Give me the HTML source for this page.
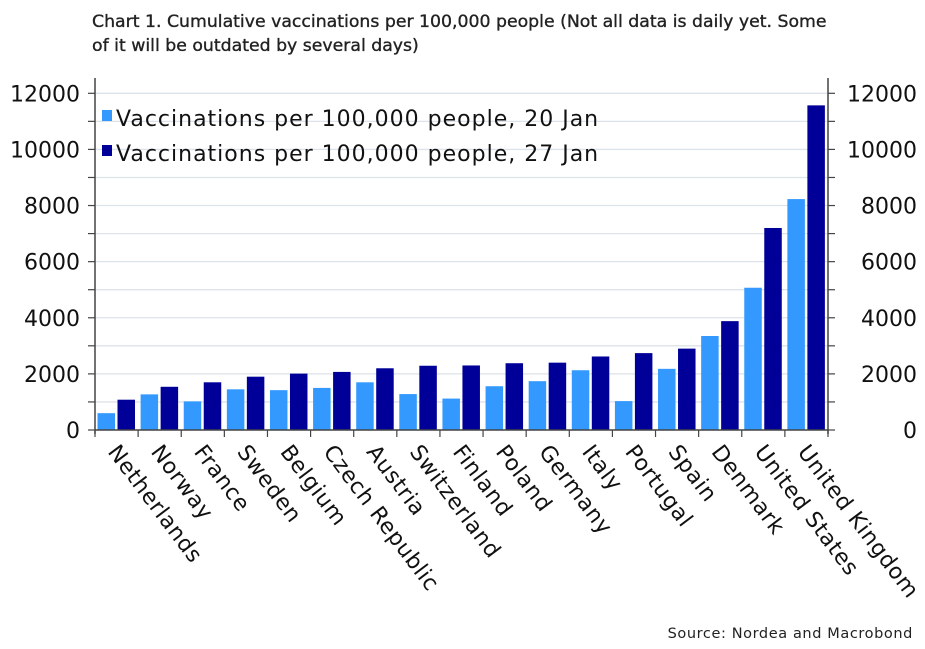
<!DOCTYPE html>
<html><head><meta charset="utf-8"><style>
body{margin:0;background:#fff;}
svg{display:block;}
</style></head><body>
<svg id="chart" width="925" height="649" xmlns="http://www.w3.org/2000/svg">
<text x="92" y="27" font-family="DejaVu Sans, Liberation Sans, sans-serif" font-size="17.3" fill="#222" stroke="#222" stroke-width="0.35">Chart 1. Cumulative vaccinations per 100,000 people (Not all data is daily yet. Some</text>
<text x="92" y="51" font-family="DejaVu Sans, Liberation Sans, sans-serif" font-size="17.3" fill="#222" stroke="#222" stroke-width="0.35">of it will be outdated by several days)</text>
<g id="grid"></g>
<g id="bars"></g>
<g id="axes"></g>
<g id="xlabels"></g>
<g font-family="DejaVu Sans, sans-serif" font-size="22" fill="#111" letter-spacing="1">
<rect x="102" y="110" width="10" height="11" fill="#3399ff"/>
<text x="116" y="126">Vaccinations per 100,000 people, 20 Jan</text>
<rect x="102" y="145" width="10" height="11" fill="#000099"/>
<text x="116" y="161">Vaccinations per 100,000 people, 27 Jan</text>
</g>
<text x="913" y="638" text-anchor="end" font-family="DejaVu Sans, sans-serif" font-size="14.5" fill="#222" letter-spacing="0.6">Source: Nordea and Macrobond</text>
</svg>
<script>
const categories = ["Netherlands","Norway","France","Sweden","Belgium","Czech Republic","Austria","Switzerland","Finland","Poland","Germany","Italy","Portugal","Spain","Denmark","United States","United Kingdom"];
const jan20 = [600,1270,1020,1450,1420,1500,1700,1280,1120,1560,1740,2130,1030,2180,3350,5070,8230];
const jan27 = [1080,1540,1700,1900,2010,2070,2200,2290,2300,2380,2400,2620,2740,2900,3880,7200,11570];
const yTicks = [0,2000,4000,6000,8000,10000,12000];

const NS = "http://www.w3.org/2000/svg";
const X0 = 95, X1 = 828, Y0 = 430, Y12 = 93.3;
const yMax = 12000;
function y(v){ return Y0 - (v / yMax) * (Y0 - Y12); }
const bw = (X1 - X0) / categories.length;
function xc(i){ return X0 + i * bw; }
function mk(tag, attrs, parent){ const e = document.createElementNS(NS, tag); for (const k in attrs) e.setAttribute(k, attrs[k]); parent.appendChild(e); return e; }

const grid = document.getElementById('grid');
for (let v = 1000; v <= 12000; v += 1000) {
  const g = mk('line', {x1:X0, x2:X1, y1:y(v), y2:y(v), stroke:'#dde3ea', 'stroke-width':1.3}, grid);
  
  
}
const bars = document.getElementById('bars');
categories.forEach((c, i) => {
  const r1 = mk('rect', {x:xc(i)+2.5, y:y(jan20[i]), width:17.5, height:Y0-y(jan20[i]), fill:'#3399ff'}, bars);
  
  
  const r2 = mk('rect', {x:xc(i)+22.5, y:y(jan27[i]), width:17.5, height:Y0-y(jan27[i]), fill:'#000099'}, bars);
  
  
});
const axes = document.getElementById('axes');
mk('line', {x1:X0, x2:X0, y1:78, y2:Y0+4, stroke:'#444', 'stroke-width':1.5}, axes);
mk('line', {x1:X1, x2:X1, y1:78, y2:Y0+4, stroke:'#444', 'stroke-width':1.5}, axes);
mk('line', {x1:X0, x2:X1, y1:Y0, y2:Y0, stroke:'#444', 'stroke-width':1.5}, axes);
for (let v = 0; v <= 12000; v += 1000) {
  mk('line', {x1:X0-7, x2:X0, y1:y(v), y2:y(v), stroke:'#444', 'stroke-width':1.2}, axes);
  mk('line', {x1:X1, x2:X1+7, y1:y(v), y2:y(v), stroke:'#444', 'stroke-width':1.2}, axes);
}
yTicks.forEach(v => {
  const t1 = mk('text', {x:X0-15, y:y(v)+8, 'text-anchor':'end', 'font-family':'DejaVu Sans, sans-serif', 'font-size':22, fill:'#111'}, axes);
  t1.textContent = v;
  
  
  const t2 = mk('text', {x:X1+89, y:y(v)+8, 'text-anchor':'end', 'font-family':'DejaVu Sans, sans-serif', 'font-size':22, fill:'#111'}, axes);
  t2.textContent = v;
  
  
});
for (let i = 0; i <= categories.length; i++) {
  mk('line', {x1:xc(i), x2:xc(i), y1:Y0, y2:Y0+7, stroke:'#444', 'stroke-width':1.2}, axes);
}
const xl = document.getElementById('xlabels');
categories.forEach((c, i) => {
  const px = xc(i) + 12, py = 452;
  const t = mk('text', {x:px, y:py, transform:`rotate(53 ${px} ${py})`, 'font-family':'DejaVu Sans, sans-serif', 'font-size':22, fill:'#111', 'letter-spacing':0.6}, xl);
  t.textContent = c;
  
  
});
</script>
</body></html>
